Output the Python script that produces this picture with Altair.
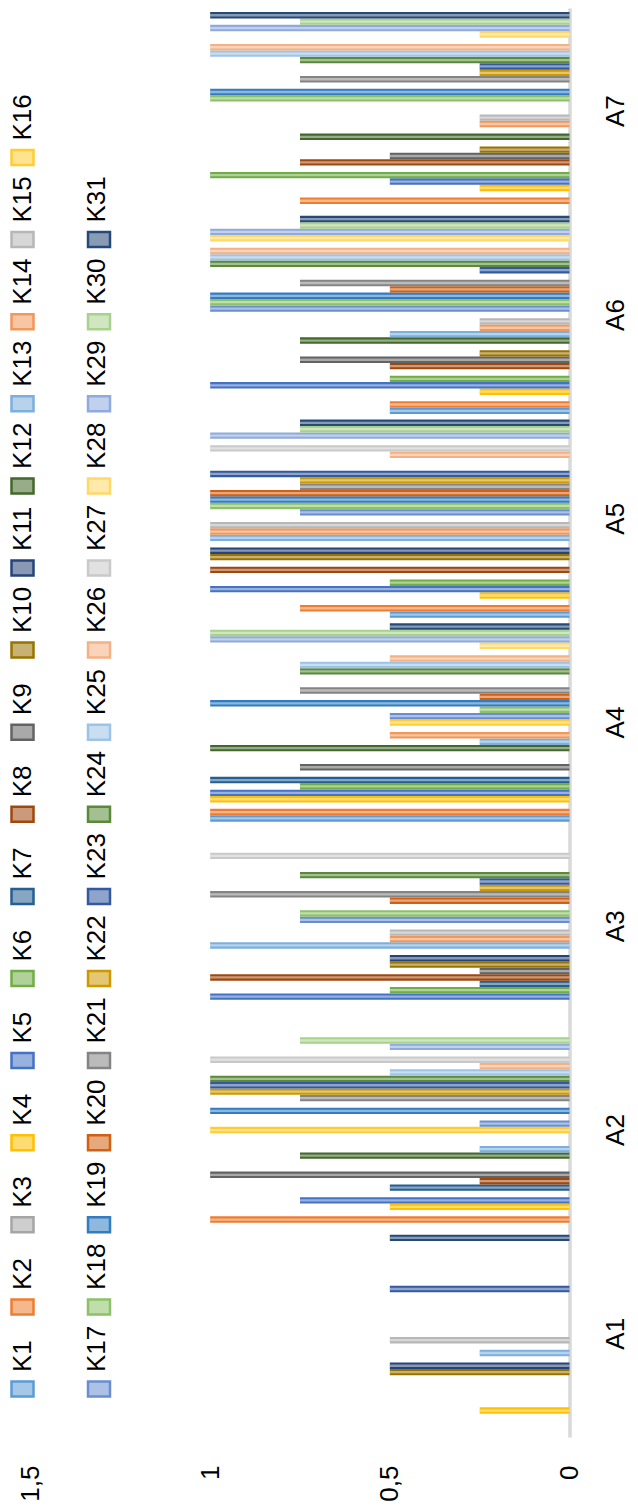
import altair as alt
import pandas as pd

categories = ["A1", "A2", "A3", "A4", "A5", "A6", "A7"]
series = [f"K{i}" for i in range(1, 32)]

#            K1   K2   K3   K4   K5   K6   K7   K8   K9  K10  K11  K12  K13  K14  K15  K16  K17  K18  K19  K20  K21  K22  K23  K24  K25  K26  K27  K28  K29  K30  K31
a1_values = [0,   0,   0,   .25, 0,   0,   0,   0,   0,   .5,  .5,  0,   .25, 0,   .5,  0,   0,   0,   0,   0,   0,   0,   .5,  0,   0,   0,   0,   0,   0,   0,   .5]
a2_values = [0,   1,   0,   .5,  .75, 0,   .5,  .25, 1,   0,   0,   .75, .25, 0,   0,   1,   .25, 0,   1,   0,   .75, 1,   1,   1,   .5,  .25, 1,   0,   .5,  .75, 0]
a3_values = [0,   0,   0,   0,   1,   .5,  .25, 1,   .25, .5,  .5,  0,   1,   .5,  .5,  0,   .75, .75, 0,   .5,  1,   .25, .25, .75, 0,   0,   1,   0,   0,   0,   0]
a4_values = [1,   1,   0,   1,   1,   .75, 1,   0,   .75, 0,   0,   1,   .25, .5,  0,   .5,  .5,  .25, 1,   .25, .75, 0,   0,   .75, .75, .5,  0,   .25, 1,   1,   .5]
a5_values = [.5,  .75, 0,   .25, 1,   .5,  0,   1,   0,   1,   1,   0,   1,   1,   1,   0,   .75, 1,   1,   1,   .75, .75, 1,   0,   0,   .5,  1,   0,   1,   .75, .75]
a6_values = [.5,  .5,  0,   .25, 1,   .5,  0,   .5,  .75, .25, 0,   .75, .5,  .25, .25, 0,   1,   1,   1,   .5,  .75, 0,   .25, 1,   1,   1,   0,   1,   1,   .75, .75]
a7_values = [0,   .75, 0,   .25, .5,  1,   0,   .75, .5,  .25, 0,   .75, 0,   .25, .25, 0,   0,   1,   1,   0,   .75, .25, .25, .75, 1,   1,   0,   .25, 1,   .75, 1]

value_ticks = [0, 0.5, 1, 1.5]

colors = [
    "#5B9BD5", "#ED7D31", "#A5A5A5", "#FFC000", "#4472C4", "#70AD47",
    "#255E91", "#9E480E", "#636363", "#997300", "#264478", "#43682B",
    "#7CAFDD", "#F1975A", "#B7B7B7", "#FFCD33", "#698ED0", "#8CC168",
    "#327DC2", "#D26012", "#848484", "#CC9A00", "#335AA1", "#5A8A39",
    "#9DC3E6", "#F4B183", "#C9C9C9", "#FFD966", "#8FAADC", "#A9D18E",
    "#264A78",
]


def lighten(hex_color, t):
    h = hex_color.lstrip("#")
    r, g, b = (int(h[i:i + 2], 16) for i in (0, 2, 4))
    r, g, b = (round(c + (255 - c) * t) for c in (r, g, b))
    return f"#{r:02X}{g:02X}{b:02X}"


light_colors = [lighten(c, 0.45) for c in colors]

FONT = "Liberation Sans, Arial, sans-serif"
FS = 26

rows = []
for cat, vals in zip(categories, [a1_values, a2_values, a3_values, a4_values,
                                  a5_values, a6_values, a7_values]):
    for s, v in zip(series, vals):
        if v > 0:
            rows.append({"cat": cat, "series": s, "value": v})
df = pd.DataFrame(rows)

leg = pd.DataFrame({
    "series": series,
    "col": [0 if i < 16 else 1 for i in range(31)],
    "row": [i if i < 16 else i - 16 for i in range(31)],
})

cats_top = categories[::-1]

y_enc = alt.Y(
    "cat:N", sort=cats_top,
    scale=alt.Scale(domain=cats_top, paddingInner=0.027, paddingOuter=0.02),
    axis=alt.Axis(orient="right", title=None, labelAngle=270, labelAlign="center",
                  labelBaseline="top", labelPadding=33, labelFontSize=FS,
                  labelFont=FONT, labelColor="#000000", ticks=False, tickSize=0,
                  domainColor="#D9D9D9", domainWidth=3.5, grid=False),
)
yoff_enc = alt.YOffset("series:N",
                       scale=alt.Scale(domain=series[::-1], paddingInner=0, paddingOuter=0))
x_enc = alt.X(
    "value:Q",
    scale=alt.Scale(domain=[0, 1.5], reverse=True, nice=False),
    axis=alt.Axis(orient="bottom", title=None, values=value_ticks,
                  labelExpr="replace(toString(datum.value), '.', ',')",
                  labelAngle=270, labelAlign="right", labelBaseline="middle",
                  labelPadding=28, labelFontSize=FS, labelFont=FONT,
                  labelColor="#000000", ticks=False, tickSize=0, domain=False,
                  grid=False, labelOverlap=False, labelFlush=False),
)

bars = alt.Chart(df).mark_bar().encode(
    y=y_enc, yOffset=yoff_enc, x=x_enc,
    color=alt.Color("series:N", scale=alt.Scale(domain=series, range=colors), legend=None),
)
stripe = alt.Chart(df).mark_bar(color="white", opacity=0.45).encode(
    y=y_enc, yOffset=yoff_enc, x=x_enc, size=alt.value(2.3),
)
main = alt.layer(bars, stripe)

swatch_shape = "M-1,-0.68L1,-0.68L1,0.68L-1,0.68Z"
swatches = alt.Chart(leg).mark_point(shape=swatch_shape, size=484, filled=True,
                                     strokeWidth=2.5, opacity=1).encode(
    x=alt.X("col:Q", scale=alt.Scale(domain=[0, 1], range=[-8, 68.5]), axis=None),
    y=alt.Y("row:Q", scale=alt.Scale(domain=[0, 15], range=[1381, 149.5]), axis=None),
    fill=alt.Fill("series:N", scale=alt.Scale(domain=series, range=light_colors), legend=None),
    stroke=alt.Stroke("series:N", scale=alt.Scale(domain=series, range=colors), legend=None),
)
texts = alt.Chart(leg).mark_text(angle=270, align="left", baseline="alphabetic",
                                 fontSize=FS, font=FONT, color="#000000").encode(
    x=alt.X("col:Q", scale=alt.Scale(domain=[0, 1], range=[0, 74.5]), axis=None),
    y=alt.Y("row:Q", scale=alt.Scale(domain=[0, 15], range=[1364, 132.5]), axis=None),
    text="series:N",
)

chart = alt.layer(main, swatches, texts).resolve_scale(
    x="independent", y="independent"
).properties(
    width=539, height=1429,
    autosize=alt.AutoSizeParams(type="none"),
    padding={"left": 22.5, "top": 0, "right": 60.5, "bottom": 66},
).configure_view(stroke=None)

chart.save("out.html", embed_options={"renderer": "svg", "actions": False})
